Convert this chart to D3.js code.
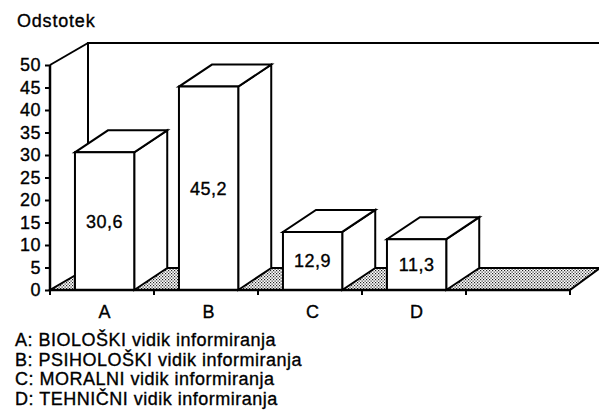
<!DOCTYPE html>
<html><head><meta charset="utf-8">
<script src="https://cdn.jsdelivr.net/npm/d3@7/dist/d3.min.js"></script>
<style>body{margin:0;background:#fff}svg{display:block}text{font-family:"Liberation Sans",Arial,Helvetica,sans-serif;fill:#000;stroke:#000;stroke-width:0.35px}</style>
</head><body>
<script>
const categories = ["A","B","C","D"];
const values = [30.6, 45.2, 12.9, 11.3];
const valueLabels = ["30,6","45,2","12,9","11,3"];
const yTicks = [0,5,10,15,20,25,30,35,40,45,50];
const yTitle = "Odstotek";
const legendLines = [
  "A: BIOLOŠKI vidik informiranja",
  "B: PSIHOLOŠKI vidik informiranja",
  "C: MORALNI vidik informiranja",
  "D: TEHNIČNI vidik informiranja"
];

const W = 599, H = 412;
const FS = 18, LS = "0.5px";
const svg = d3.select("body").append("svg").attr("width", W).attr("height", H);
const defs = svg.append("defs");
const pat = defs.append("pattern").attr("id","dots").attr("patternUnits","userSpaceOnUse")
  .attr("width",3).attr("height",3);
pat.append("rect").attr("width",3).attr("height",3).attr("fill","#fff");
pat.append("rect").attr("x",0).attr("y",0).attr("width",1.2).attr("height",1.2).attr("fill","#222");
pat.append("rect").attr("x",1.5).attr("y",1.5).attr("width",1.2).attr("height",1.2).attr("fill","#222");

const x = d3.scaleBand().domain([...categories, "_"]).range([50, 570]).padding(0);
const y = d3.scaleLinear().domain([0, 50]).range([290, 65]);

const depthL = 38, depthR = 30, depthY = 22;
const barDx = 33, barDy = 22;
const x0 = x.range()[0], x1 = x.range()[1];
const yb = y(0), yt = y(50);

const g = svg.append("g");
const line = (pts) => "M" + pts.map(p => p.join(",")).join("L");

// floor
g.append("path").attr("d", line([[x0,yb],[x1,yb],[x1+depthR,yb-depthY],[x0+depthL,yb-depthY]]) + "Z")
  .attr("fill","url(#dots)").attr("stroke","#000").attr("stroke-width",2).attr("stroke-linejoin","miter");
// back wall
g.append("path").attr("d", line([[x0+depthL,yb-depthY],[x0+depthL,yt-depthY],[W+2,yt-depthY]]))
  .attr("fill","none").attr("stroke","#000").attr("stroke-width",2);
// side wall top edge
g.append("path").attr("d", line([[x0,yt],[x0+depthL,yt-depthY]]))
  .attr("fill","none").attr("stroke","#000").attr("stroke-width",2);

// bars
const bw = x.bandwidth();
const off = bw * 0.24, fw = bw * 0.57;
categories.forEach((c, i) => {
  const bx0 = x(c) + off, bx1 = bx0 + fw, by = y(values[i]);
  const bg = g.append("g").attr("stroke","#000").attr("stroke-width",2).attr("stroke-linejoin","miter").attr("fill","#fff");
  bg.append("path").attr("d", line([[bx1,yb],[bx1,by],[bx1+barDx,by-barDy],[bx1+barDx,yb-barDy]])+"Z");
  bg.append("path").attr("d", line([[bx0,by],[bx1,by],[bx1+barDx,by-barDy],[bx0+barDx,by-barDy]])+"Z");
  bg.append("path").attr("d", line([[bx0,yb],[bx0,by],[bx1,by],[bx1,yb]])+"Z");
  g.append("text").attr("x",(bx0+bx1)/2).attr("y",(by+yb)/2).attr("dy","0.36em")
    .attr("text-anchor","middle").attr("font-size",FS).attr("letter-spacing",LS).text(valueLabels[i]);
  g.append("text").attr("x",(bx0+bx1)/2).attr("y",318)
    .attr("text-anchor","middle").attr("font-size",FS).text(c);
});

// y axis
const ya = svg.append("g").attr("transform",`translate(${x0},0)`)
  .call(d3.axisLeft(y).tickValues(yTicks).tickSize(5).tickPadding(4));
ya.select(".domain").remove();
ya.selectAll(".tick line").attr("stroke","#000").attr("stroke-width",2);
ya.selectAll(".tick text").attr("font-size",FS).attr("letter-spacing",LS)
  .attr("font-family",'"Liberation Sans",Arial,sans-serif').attr("fill","#000");
svg.append("path").attr("d", line([[x0,yt],[x0,yb+1]])).attr("stroke","#000").attr("stroke-width",2.5);
// bottom axis line and ticks
svg.append("path").attr("d", line([[x0-1,yb],[x1,yb]])).attr("stroke","#000").attr("stroke-width",2.5);
const bticks = [...x.domain().map(d => x(d)), x1];
svg.selectAll(".bt").data(bticks).join("path").attr("class","bt")
  .attr("d", d => line([[d,yb],[d,yb+5]])).attr("stroke","#000").attr("stroke-width",2);

svg.append("text").attr("x",17).attr("y",27).attr("font-size",FS).attr("letter-spacing","0.8px").text(yTitle);
svg.selectAll(".leg").data(legendLines).join("text").attr("class","leg")
  .attr("x",15).attr("y",(d,i)=>346+i*19.7).attr("font-size",FS).attr("letter-spacing",LS).text(d=>d);
</script>
</body></html>
